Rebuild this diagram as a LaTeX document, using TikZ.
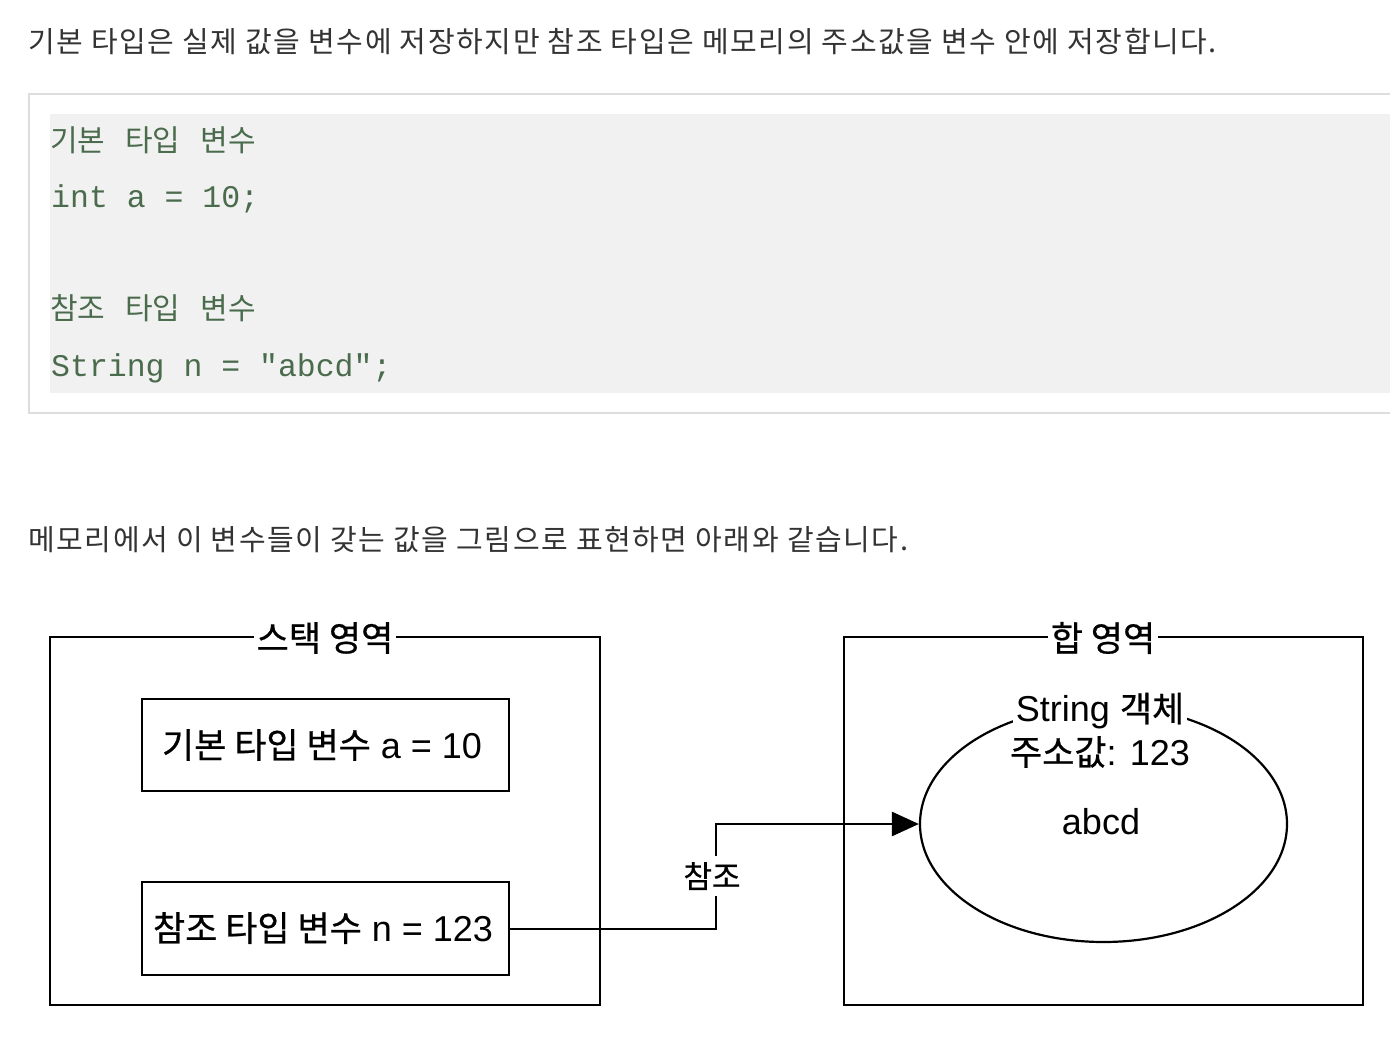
\documentclass[tikz,border=0pt]{standalone}
\usepackage{fontspec}
\setmainfont{Liberation Sans}
\setmonofont{Liberation Mono}
\newfontfamily\cjk{Noto Sans CJK KR}
\newfontfamily\cjkpara[LetterSpace=5.5]{Noto Sans CJK KR}
\newfontfamily\cjkd[FakeBold=0.6]{Noto Sans CJK KR}
\usetikzlibrary{shapes.geometric,arrows.meta}
\definecolor{bodytext}{HTML}{333333}
\definecolor{codegreen}{HTML}{4A6B4C}
\definecolor{codebg}{HTML}{F1F1F1}
\definecolor{codeframe}{HTML}{DDDDDD}
\newcommand{\kor}[1]{{\cjkd\fontsize{35}{40}\selectfont #1}}
\newcommand{\korsm}[1]{{\cjkd\fontsize{31}{37}\selectfont #1}}
\newcommand{\codekor}[1]{{\cjk\fontsize{30}{34}\selectfont\spaceskip=20pt plus 0pt minus 0pt #1}}
\begin{document}
\begin{tikzpicture}[x=1pt,y=-1pt,
  para/.style={anchor=base west, inner sep=0, text=bodytext, font=\cjkpara\fontsize{29}{34}\selectfont},
  codeline/.style={anchor=base west, inner sep=0, text=codegreen},
  monoline/.style={codeline, font=\ttfamily\fontsize{31.5}{36}\selectfont},
  dtext/.style={inner sep=0, font=\fontsize{36}{40}\selectfont},
  region/.style={draw, line width=2.8pt},
  varbox/.style={draw, line width=2.8pt},
  titlebox/.style={dtext, fill=white, inner xsep=3pt, inner ysep=2pt},
  conn/.style={line width=2.6pt, -{Triangle[length=27pt,width=24pt]}}]
\useasboundingbox[fill=white] (0,0) rectangle (1400,1056);

% paragraph 1
\node[para] (p1) at (28,53) {기본 타입은 실제 값을 변수에 저장하지만 참조 타입은 메모리의 주소값을 변수 안에 저장합니다.};

% code block
\fill[codebg] (50,114) rectangle (1390,393);
\draw[codeframe, line width=2pt] (1390,94) -- (29,94) -- (29,413) -- (1390,413);
\node[codeline] (c1) at (50,152) {\codekor{기본 타입 변수}};
\node[monoline] (c2) at (51,208) {int a = 10;};
\node[codeline] (c3) at (50,320) {\codekor{참조 타입 변수}};
\node[monoline] (c4) at (51,377) {String n = "abcd";};

% paragraph 2
\node[para] (p2) at (28,550) {메모리에서 이 변수들이 갖는 값을 그림으로 표현하면 아래와 같습니다.};

% stack region
\draw[region] (50,637) rectangle (600,1005);
\node[titlebox] (stt) at (325,638) {\kor{스택 영역}};
\draw[varbox] (142,699) rectangle (509,791);
\node[dtext] (b1) at (322,745) {\kor{기본 타입 변수} a = 10};
\draw[varbox] (142,882) rectangle (509,975);
\node[inner sep=0] (b2) at (509,929) {};
\node[dtext] (b2t) at (323,928) {\kor{참조 타입 변수} n = 123};

% heap region
\draw[region] (844,637) rectangle (1363,1005);
\node[titlebox] (hpt) at (1103,638) {\kor{합 영역}};
\node[ellipse, draw, line width=2.2pt, minimum width=367pt, minimum height=236pt, inner sep=0] (obj) at (1103.5,824) {};

% connector
\node[inner sep=0] (lbl) at (716,876) {};
\draw[conn] (b2.center) -| (lbl.center) |- (obj.west);
\node[titlebox, inner ysep=6pt] (lblw) at (712,876) {\korsm{참조}};

% object labels
\node[dtext, fill=white, inner xsep=3pt] (ot1) at (1100,711) {String \kor{객체}};
\node[dtext] (ot2) at (1100,752) {\kor{주소값}: 123};
\node[dtext] (ot3) at (1101,822) {abcd};
\end{tikzpicture}
\end{document}
